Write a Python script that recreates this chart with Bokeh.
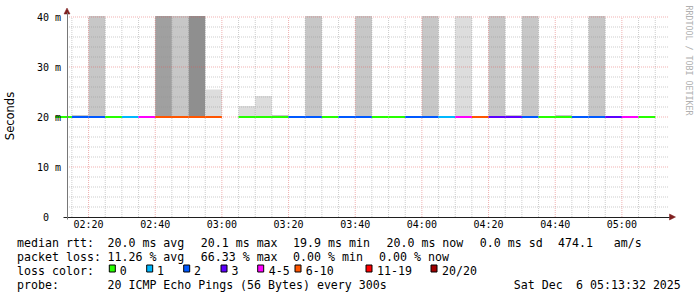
from bokeh.plotting import figure
from bokeh.models import Range1d, FixedTicker
from bokeh.core.properties import value
from bokeh.embed import file_html
from bokeh.resources import INLINE
import math

# ---------------- data ----------------
slot_starts = ["02:10", "02:15", "02:20", "02:25", "02:30", "02:35", "02:40", "02:45", "02:50",
               "02:55", "03:00", "03:05", "03:10", "03:15", "03:20", "03:25", "03:30", "03:35",
               "03:40", "03:45", "03:50", "03:55", "04:00", "04:05", "04:10", "04:15", "04:20",
               "04:25", "04:30", "04:35", "04:40", "04:45", "04:50", "04:55", "05:00", "05:05"]
# loss class index into loss_labels (None = no data)
loss_class = [0, 2, 2, 0, 1, 4, 5, 5, 5,
              5, None, 0, 0, 0, 2, 2, 0, 2,
              2, 0, 0, 2, 2, 1, 4, 5, 3,
              3, 2, 0, 0, 2, 2, 3, 4, 0]
median_ms = [20.0, 20.0, 20.0, 20.0, 20.0, 20.0, 20.0, 20.0, 20.0,
             20.0, None, 20.0, 20.0, 20.0, 20.0, 20.0, 20.0, 20.0,
             20.0, 20.0, 20.0, 20.0, 20.0, 20.0, 20.0, 20.0, 20.0,
             20.0, 20.0, 20.0, 20.0, 20.0, 20.0, 20.0, 20.0, 20.0]
# top of the smoke (ms, as far as visible), None = no smoke visible
smoke_top = [None, 20.4, 40.2, None, None, None, 40.2, 40.2, 40.2,
             25.5, None, 22.2, 24.2, 20.4, None, 40.2, None, None,
             40.2, None, None, None, 40.2, None, 40.2, None, 40.2,
             20.4, 40.2, None, 20.4, None, 40.2, None, None, None]
# smoke density (0 = light, 1 = dark)
smoke_density = [0, 0.5, 0.5, 0, 0, 0, 0.85, 0.5, 1.0,
                 0.3, 0, 0.3, 0.3, 0.5, 0, 0.5, 0, 0,
                 0.5, 0, 0, 0, 0.5, 0, 0.3, 0, 0.5,
                 0.5, 0.5, 0, 0.5, 0, 0.5, 0, 0, 0]

loss_labels = ["0", "1", "2", "3", "4-5", "6-10", "11-19", "20/20"]
loss_colors = ["#26ff00", "#00b8ff", "#0059ff", "#5e00ff", "#ff00ff", "#ff5500", "#ff0000", "#a10000"]

x_tick_labels = ["02:20", "02:40", "03:00", "03:20", "03:40", "04:00", "04:20", "04:40", "05:00"]
y_tick_values = [0, 10, 20, 30, 40]
y_tick_labels = ["0\u00a0\u00a0", "10 m", "20 m", "30 m", "40 m"]
y_minor_values = [2, 4, 6, 8, 12, 14, 16, 18, 22, 24, 26, 28, 32, 34, 36, 38]
y_max = 40

graph_start = "02:13:32"
graph_end = "05:13:32"

legend_rows = [
    [("median rtt:", 17.3), ("20.0 ms avg", 107.7), ("20.1 ms max", 201), ("19.9 ms min", 293.3),
     ("20.0 ms now", 386.7), ("0.0 ms sd", 480), ("474.1", 558.3), ("am/s", 614)],
    [("packet loss:", 17.3), ("11.26 % avg", 107.7), ("66.33 % max", 201), ("0.00 % min", 293.3),
     ("0.00 % now", 379.3)],
    [("loss color:", 17.3)],
    [("probe:", 17.3), ("20 ICMP Echo Pings (56 Bytes) every 300s", 107.7), ("Sat Dec", 514),
     ("6 05:13:32 2025", 576.3)],
]
loss_box_x = [108.3, 145.7, 182.7, 220, 256.7, 294, 365, 430]
loss_text_x = [120, 157.3, 194.3, 231.7, 269, 306, 377.3, 442.3]


def minutes(s):
    parts = [int(v) for v in s.split(":")]
    while len(parts) < 3:
        parts.append(0)
    return parts[0] * 60 + parts[1] + parts[2] / 60.0


# ---------------- geometry (canvas pixels -> data) ----------------
W, H = 697, 297
AX_X, AX_Y = 66.5, 216.5          # pixel position of the axes origin
PLOT_W = 600.0                     # pixel width of the time span
PX_PER_MS = 5.0
T0 = minutes(graph_start)
PX_PER_MIN = PLOT_W / (minutes(graph_end) - T0)


def X(px):
    return T0 + (px - AX_X) / PX_PER_MIN


def Y(py):
    return (AX_Y - py) / PX_PER_MS


MONO = "DejaVu Sans Mono"

p = figure(width=W, height=H, output_backend="svg", toolbar_location=None, title=None,
           x_range=Range1d(X(0), X(W)), y_range=Range1d(Y(H), Y(0)),
           min_border=0, min_border_left=0, min_border_right=0, min_border_top=0, min_border_bottom=0)
p.outline_line_color = None
p.background_fill_color = "white"
p.border_fill_color = "white"
p.xgrid.visible = False
p.ygrid.visible = False

# smoke
sx0, sx1, sb, st, sc = [], [], [], [], []
for s, top, d in zip(slot_starts, smoke_top, smoke_density):
    if top is None:
        continue
    t = minutes(s)
    sx0.append(t)
    sx1.append(t + 5)
    sb.append(19.9)
    st.append(top)
    g = int(round(255 - 112 * d))
    sc.append("#%02x%02x%02x" % (g, g, g))
p.quad(left=sx0, right=sx1, bottom=sb, top=st, fill_color=sc, line_color=None)

# grid (dotted, drawn over the smoke like rrdtool does)
x_major = [minutes(s) for s in x_tick_labels]
t_end = minutes(graph_end)
bounds = [minutes(s) for s in slot_starts] + [minutes(slot_starts[-1]) + 5]
x_minor = [b for b in bounds if T0 < b < t_end and b not in x_major]
y_major_grid = [v for v in y_tick_values if v > 0]

MAJOR_GRID = "rgba(222,79,79,0.45)"
MINOR_GRID = "rgba(143,143,143,0.45)"
gx_end = X(668)
p.segment(x0=[T0] * len(y_minor_values), x1=[gx_end] * len(y_minor_values),
          y0=y_minor_values, y1=y_minor_values, line_color=MINOR_GRID, line_dash="1 1", line_width=1)
p.segment(x0=x_minor, x1=x_minor, y0=[0] * len(x_minor), y1=[y_max] * len(x_minor),
          line_color=MINOR_GRID, line_dash="1 1", line_width=1)
p.segment(x0=[T0] * len(y_major_grid), x1=[gx_end] * len(y_major_grid),
          y0=y_major_grid, y1=y_major_grid, line_color=MAJOR_GRID, line_dash="1 1", line_width=1)
p.segment(x0=x_major, x1=x_major, y0=[0] * len(x_major), y1=[y_max] * len(x_major),
          line_color=MAJOR_GRID, line_dash="1 1", line_width=1)

# median line coloured by loss
mx0, mx1, my, mc = [], [], [], []
for s, lc, m in zip(slot_starts, loss_class, median_ms):
    if lc is None or m is None:
        continue
    t = minutes(s)
    mx0.append(t)
    mx1.append(t + 5)
    my.append(m)
    mc.append(loss_colors[lc])
p.segment(x0=mx0, y0=my, x1=mx1, y1=my, line_color=mc, line_width=2)

# axes
p.xaxis.ticker = FixedTicker(ticks=x_major)
p.xaxis.major_label_overrides = {v: s for v, s in zip(x_major, x_tick_labels)}
p.yaxis.ticker = FixedTicker(ticks=y_tick_values)
p.yaxis.major_label_overrides = {v: s for v, s in zip(y_tick_values, y_tick_labels)}
for ax in (p.xaxis, p.yaxis):
    ax.major_tick_line_color = None
    ax.minor_tick_line_color = None
    ax.major_tick_in = 0
    ax.major_tick_out = 0
    ax.minor_tick_in = 0
    ax.minor_tick_out = 0
    ax.major_label_text_font = MONO
    ax.major_label_text_font_size = "10px"
    ax.major_label_text_color = "black"
p.xaxis.fixed_location = 0
p.yaxis.fixed_location = T0
p.xaxis.bounds = (X(63), X(669))
p.yaxis.bounds = (Y(219), Y(12))
p.xaxis.axis_line_color = "#1f1f1f"
p.yaxis.axis_line_color = "#777777"
p.xaxis.major_label_standoff = 2
p.yaxis.major_label_standoff = 6
p.yaxis.axis_label = "Seconds"
p.yaxis.axis_label_text_font = "DejaVu Sans"
p.yaxis.axis_label_text_font_size = "11.5px"
p.yaxis.axis_label_text_font_style = "normal"
p.yaxis.axis_label_text_color = "black"
p.yaxis.axis_label_standoff = 17

# axis arrows
ARROW = "#7f1f1f"
p.patches(xs=[[X(63.5), X(66.5), X(69.5)], [X(669), X(675), X(669)]],
          ys=[[Y(13.5), Y(7.5), Y(13.5)], [Y(213.5), Y(216.5), Y(219.5)]],
          fill_color=ARROW, line_color=ARROW, line_width=0.5)

# watermark
p.text(x=[X(688)], y=[Y(60)], text=["RRDTOOL / TOBI OETIKER"], angle=-math.pi / 2,
       text_font=value(MONO), text_font_size=value("8.3px"), text_color="#b0b0b0",
       text_align="center", text_baseline="middle")

# legend
row_baselines = [242, 256, 270, 284]
lx, ly, lt = [], [], []
for row, base in zip(legend_rows, row_baselines):
    for txt, px in row:
        lx.append(X(px - 0.7))
        ly.append(Y(base))
        lt.append(txt)
for lab, tx in zip(loss_labels, loss_text_x):
    lx.append(X(tx - 0.7))
    ly.append(Y(row_baselines[2]))
    lt.append(lab)
p.text(x=lx, y=ly, text=lt, text_font=value(MONO), text_font_size=value("11.6px"),
       text_color="black", text_align="left", text_baseline="alphabetic")

p.quad(left=[X(bx + 0.5) for bx in loss_box_x], right=[X(bx + 6.5) for bx in loss_box_x],
       top=[Y(264.5)] * len(loss_box_x), bottom=[Y(271.5)] * len(loss_box_x),
       fill_color=loss_colors, line_color="black", line_width=1)

open("out.html", "w").write(file_html(p, INLINE))
